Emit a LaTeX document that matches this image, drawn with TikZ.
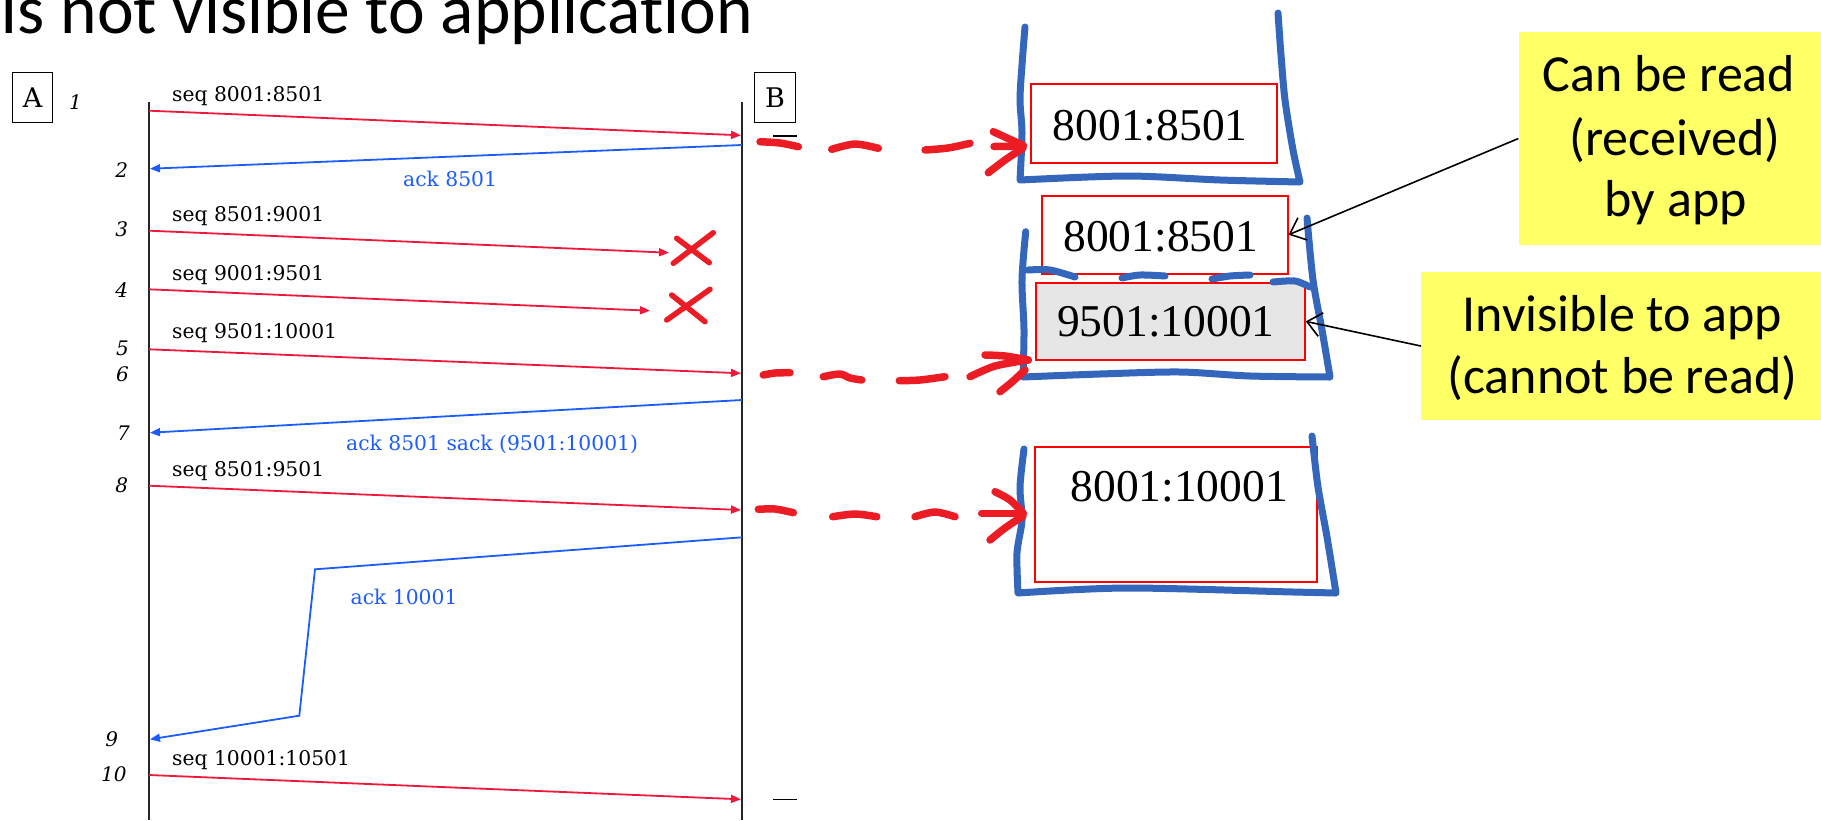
\documentclass[tikz,border=0pt]{standalone}
\usepackage{fontspec}
\newfontfamily\calfont[Ligatures=NoCommon]{Carlito}
\newfontfamily\serfont{Liberation Serif}
\newfontfamily\seqfont{DejaVu Serif}
\usetikzlibrary{arrows.meta}
\definecolor{seqred}{RGB}{238,24,58}
\definecolor{seqblue}{RGB}{28,92,250}
\definecolor{penblue}{RGB}{52,102,188}
\definecolor{penred}{RGB}{236,28,36}
\definecolor{boxred}{RGB}{255,0,0}
\definecolor{graybg}{RGB}{230,230,230}
\definecolor{calloutyellow}{RGB}{255,255,102}
\begin{document}
\begin{tikzpicture}[x=1pt,y=-1pt,
  seqtxt/.style={inner sep=0pt, anchor=base west, font=\seqfont\fontsize{20.3}{24}\selectfont},
  acktxt/.style={seqtxt, text=seqblue},
  numtxt/.style={inner sep=0pt, anchor=base east, font=\seqfont\fontsize{20}{24}\selectfont\itshape},
  lifeline/.style={line width=1.3pt, draw=black!85},
  redmsg/.style={draw=seqred, line width=1.8pt, -{Triangle[length=10pt,width=8pt]}},
  bluemsg/.style={draw=seqblue, line width=1.8pt, -{Triangle[length=10pt,width=8pt]}},
  hostbox/.style={draw, line width=1pt, minimum width=40.4pt, minimum height=49.6pt, inner sep=0pt, font=\seqfont\fontsize{27}{32}\selectfont},
  segbox/.style={draw=boxred, line width=1.8pt, fill=white, inner sep=0pt, anchor=north west},
  bigtxt/.style={inner sep=0pt, anchor=base, font=\serfont\fontsize{45.5}{52}\selectfont},
  bluepen/.style={draw=penblue, line width=7pt, line cap=round, line join=round},
  redpen/.style={draw=penred, line width=7.5pt, line cap=round, line join=round},
  xpen/.style={draw=penred, line width=5.5pt, line cap=round},
  callout/.style={fill=calloutyellow, inner sep=0pt, anchor=north west},
  calltxt/.style={inner sep=0pt, anchor=base, font=\calfont\fontsize{52}{62}\selectfont},
  pointer/.style={draw=black, line width=1.6pt, -{Straight Barb[length=14pt,width=24pt]}},
  tick/.style={draw=black, line width=1.2pt}
]
\useasboundingbox (0,0) rectangle (1821,820);

% title (cut at the top edge, as in the reference)
\node[inner sep=0pt, anchor=base west, font=\calfont\fontsize{69.5}{80}\selectfont] (title) at (0,33) {Is not visible to application};

% hosts and lifelines
\node[hostbox] (A) at (32.5,97.5) {A};
\node[hostbox] (B) at (775,97.5) {B};
\coordinate (Atop) at (149,101.7);
\coordinate (Abot) at (149,820);
\coordinate (Btop) at (742,101.7);
\coordinate (Bbot) at (742,820);
\draw[lifeline] (Atop) -- (Abot);
\draw[lifeline] (Btop) -- (Bbot);

% message end points
\coordinate (a1) at (149,110.7);  \coordinate (b1) at (741,135.3);
\coordinate (b2) at (742,145);    \coordinate (a2) at (150,168.7);
\coordinate (a3) at (149,230.7);  \coordinate (x3) at (669,252.7);
\coordinate (a4) at (149,289.3);  \coordinate (x4) at (650,310.7);
\coordinate (a5) at (149,349.3);  \coordinate (b5) at (741,373.3);
\coordinate (b7) at (742,400);    \coordinate (a7) at (150,432.7);
\coordinate (a8) at (149,485.7);  \coordinate (b8) at (741,510);
\coordinate (b9) at (742,537.3);  \coordinate (k1) at (315,569.3);
\coordinate (k2) at (299.3,715.7); \coordinate (a9) at (150,739.3);
\coordinate (a10) at (149,775);   \coordinate (b10) at (741,799.3);

\draw[redmsg] (a1) -- (b1);
\draw[bluemsg] (b2) -- (a2);
\draw[redmsg] (a3) -- (x3);
\draw[redmsg] (a4) -- (x4);
\draw[redmsg] (a5) -- (b5);
\draw[bluemsg] (b7) -- (a7);
\draw[redmsg] (a8) -- (b8);
\draw[bluemsg] (b9) -- (k1) -- (k2) -- (a9);
\draw[redmsg] (a10) -- (b10);

% message labels
\node[seqtxt] (t1) at (172,101.5) {seq 8001:8501};
\node[acktxt] (t2) at (403,186) {ack 8501};
\node[seqtxt] (t3) at (172,221) {seq 8501:9001};
\node[seqtxt] (t4) at (172,280.5) {seq 9001:9501};
\node[seqtxt] (t5) at (172,338.7) {seq 9501:10001};
\node[acktxt] (t7) at (346,450) {ack 8501 sack (9501:10001)};
\node[seqtxt] (t8) at (172,476.7) {seq 8501:9501};
\node[acktxt] (t9) at (350.5,604.3) {ack 10001};
\node[seqtxt] (t10) at (172,765) {seq 10001:10501};

% step numbers
\node[numtxt] (n1) at (82,109.3) {1};
\node[numtxt] (n2) at (128.3,177.3) {2};
\node[numtxt] (n3) at (128.3,236.7) {3};
\node[numtxt] (n4) at (128.3,297.3) {4};
\node[numtxt] (n5) at (129,355) {5};
\node[numtxt] (n6) at (129,381.7) {6};
\node[numtxt] (n7) at (130,440.7) {7};
\node[numtxt] (n8) at (128.3,492.3) {8};
\node[numtxt] (n9) at (118.3,746) {9};
\node[numtxt] (n10) at (126.7,781.7) {10};

% loss marks
\draw[xpen] (673.3,263.3) -- (713.3,232.7);
\draw[xpen] (676.7,238.3) -- (709.3,262.7);
\draw[xpen] (666.7,320) -- (710,289.3);
\draw[xpen] (671.7,295) -- (705,321.7);

% small ticks at B
\draw[tick] (773,136) -- (797,136);
\draw[tick] (755,510.7) -- (770,510.7);
\draw[tick] (773,799.3) -- (797,799.3);

% buffer segments
\node[segbox, minimum width=246pt, minimum height=79pt] (s1) at (1030,83.3) {};
\node[segbox, minimum width=246pt, minimum height=77.7pt] (s2) at (1040.7,195) {};
\node[segbox, fill=graybg, minimum width=269pt, minimum height=77.6pt] (s3) at (1035,281.7) {};
\node[segbox, minimum width=281.7pt, minimum height=135.3pt] (s4) at (1034.3,445.7) {};
\node[bigtxt] (s1t) at (1150.3,140) {8001:8501};
\node[bigtxt] (s2t) at (1160.8,251.7) {8001:8501};
\node[bigtxt] (s3t) at (1165.8,336.7) {9501:10001};
\node[bigtxt] (s4t) at (1179.2,501.7) {8001:10001};

% hand-drawn buffers
\draw[bluepen] plot[smooth] coordinates {(1025,27) (1022,65) (1020,100) (1022,133) (1020,180)}
  -- plot[smooth] coordinates {(1020,180) (1127,176) (1220,180) (1300,182)}
  -- plot[smooth] coordinates {(1300,182) (1293,150) (1285,100) (1281,55) (1278,13)};
\draw[bluepen] plot[smooth] coordinates {(1025.7,231.7) (1022,280) (1024,330) (1023,377)}
  -- plot[smooth] coordinates {(1023,377) (1100,374) (1180,372) (1250,376) (1330,377)}
  -- plot[smooth] coordinates {(1330,377) (1322,330) (1313,280) (1307,218)};
\draw[bluepen] plot[smooth] coordinates {(1028,270) (1050,270) (1075,277)};
\draw[bluepen] plot[smooth] coordinates {(1122,278) (1140,275) (1165,276)};
\draw[bluepen] plot[smooth] coordinates {(1212,279) (1230,276) (1250,275)};
\draw[bluepen] plot[smooth] coordinates {(1273,282) (1295,281) (1310,287)};
\draw[bluepen] plot[smooth] coordinates {(1024,449) (1020,487) (1022,520) (1017,553) (1018,593)}
  -- plot[smooth] coordinates {(1018,593) (1127,588) (1293,592) (1336,593)}
  -- plot[smooth] coordinates {(1336,593) (1327,537) (1318,487) (1312,436)};

% callouts
\node[callout, minimum width=302.7pt, minimum height=213.3pt] (c1) at (1518.3,31.7) {};
\node[callout, minimum width=400pt, minimum height=148.3pt] (c2) at (1421,271.7) {};
\node[calltxt] (c1a) at (1669,91.7) {Can be read};
\node[calltxt] (c1b) at (1675,155) {(received)};
\node[calltxt] (c1c) at (1675.8,216.7) {by app};
\node[calltxt] (c2a) at (1622.5,331.7) {Invisible to app};
\node[calltxt] (c2b) at (1622.5,393.3) {(cannot be read)};
\draw[pointer] (c1.west) -- (s2.east);
\draw[pointer] (c2.west) -- (s3.east);

% hand-drawn red dashed arrows
\draw[redpen] plot[smooth] coordinates {(760,141.7) (780,143) (798.3,146.7)};
\draw[redpen] plot[smooth] coordinates {(831.7,149.3) (855,144) (878.3,148.3)};
\draw[redpen] plot[smooth] coordinates {(925,150) (948,148) (970,143.3)};
\draw[redpen] (993.3,131.7) -- (1023.3,145.5);
\draw[redpen] (994,146.5) -- (1023,146);
\draw[redpen] plot[smooth] coordinates {(988.3,172.7) (1005,160) (1023,148)};

\draw[redpen] plot[smooth] coordinates {(763.3,375) (775,373) (790,372.7)};
\draw[redpen] plot[smooth] coordinates {(823.3,376.7) (840,374) (850,378) (861.7,380)};
\draw[redpen] plot[smooth] coordinates {(899.3,380.7) (920,380) (945,376.7)};
\draw[redpen] plot[smooth] coordinates {(985,355) (1005,356) (1028.3,360)};
\draw[redpen] plot[smooth] coordinates {(970,376.7) (995,366) (1028,360)};
\draw[redpen] plot[smooth] coordinates {(1000,391.7) (1012,382) (1025,370)};

\draw[redpen] plot[smooth] coordinates {(758.3,509.3) (775,509) (793.3,512.7)};
\draw[redpen] plot[smooth] coordinates {(832.7,516.7) (855,514) (876.7,516.7)};
\draw[redpen] plot[smooth] coordinates {(915,516.7) (935,512) (955,516.7)};
\draw[redpen] (981.7,513.3) -- (1023.3,513.3);
\draw[redpen] plot[smooth] coordinates {(995,491.7) (1010,500) (1023,513)};
\draw[redpen] plot[smooth] coordinates {(990,540) (1005,528) (1023,516)};
\end{tikzpicture}
\end{document}
